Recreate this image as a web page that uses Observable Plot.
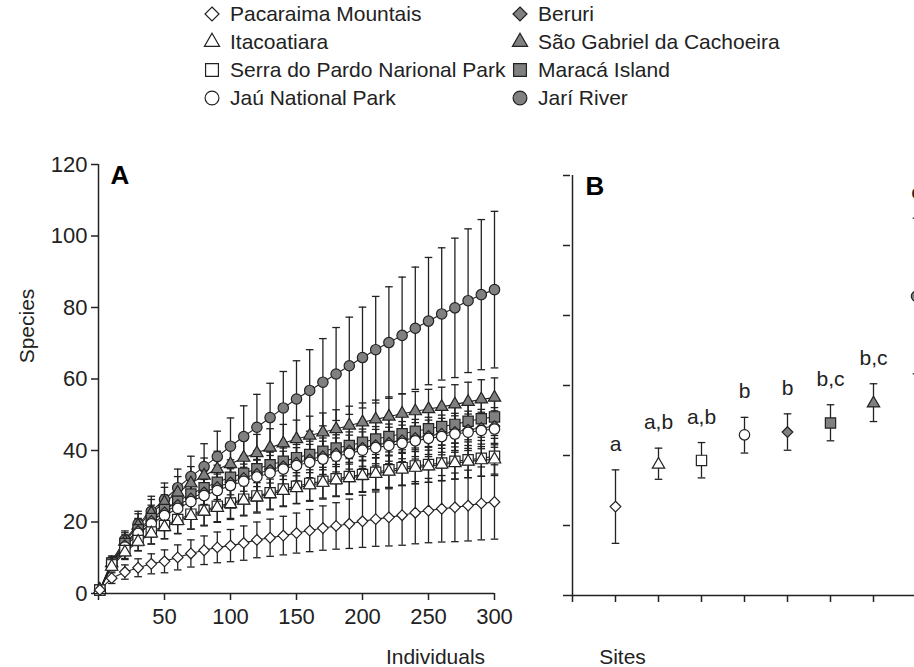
<!DOCTYPE html>
<html><head><meta charset="utf-8">
<script src="https://cdn.jsdelivr.net/npm/d3@7"></script>
<script src="https://cdn.jsdelivr.net/npm/@observablehq/plot@0.6"></script>
<style>
html,body{margin:0;padding:0;background:#fff;}
#wrap{position:relative;width:914px;height:667px;overflow:hidden;font-family:"Liberation Sans",Arial,sans-serif;color:#222;background:#fff;}
#legend{position:absolute;left:202px;top:0;display:grid;grid-template-columns:308px auto;grid-template-rows:repeat(4,28px);grid-auto-flow:column;font-size:21px;}
.item{display:flex;align-items:center;gap:8px;white-space:nowrap;}
.item svg{flex:none;overflow:visible}
#panelA{position:absolute;left:0;top:130px;width:545px;}
#panelB{position:absolute;left:545px;top:130px;width:430px;}
</style></head><body>
<div id="wrap"><div id="legend"></div><div id="panelA"></div><div id="panelB"></div></div>
<script>
// ---------- data ----------
const siteNames = ["Pacaraima Mountais","Itacoatiara","Serra do Pardo Narional Park","Jaú National Park","Beruri","São Gabriel da Cachoeira","Maracá Island","Jarí River"];
const siteSymbols = ["diamond2","triangle","square","circle","diamond2","triangle","square","circle"];
const siteFills = ["white","white","white","white","#808080","#808080","#808080","#808080"];

const individuals = [1,10,20,30,40,50,60,70,80,90,100,110,120,130,140,150,160,170,180,190,200,210,220,230,240,250,260,270,280,290,300];

const pacaraima    = [1,4.3,6.0,7.2,8.3,9.0,10.1,11.2,12.1,12.9,13.4,14.1,15.0,15.6,16.2,16.9,17.6,18.3,18.9,19.5,20.2,20.8,21.3,21.9,22.6,23.2,23.7,24.1,24.6,25.2,25.6];
const pacaraimaErr = [0,1.5,2.0,2.5,2.8,3.2,3.5,3.8,4.0,4.3,4.5,4.8,5.0,5.2,5.4,5.6,5.9,6.2,6.5,6.9,7.3,7.6,8.0,8.4,8.7,9.0,9.3,9.6,9.9,10.2,10.4];
const itacoatiara    = [1,7.5,11.5,14.5,16.8,18.6,20.3,21.7,22.9,24.0,25.0,26.0,26.9,27.8,28.7,29.5,30.3,31.0,31.7,32.3,32.9,33.5,34.1,34.7,35.2,35.6,36.1,36.5,36.9,37.3,37.5];
const itacoatiaraErr = [0,1.2,2.0,2.6,3.0,3.3,3.5,3.7,3.8,3.9,4.0,4.1,4.1,4.2,4.2,4.3,4.3,4.3,4.4,4.4,4.4,4.4,4.4,4.5,4.5,4.5,4.5,4.5,4.5,4.5,4.5];
const serraDoPardo    = [1,8.0,12.0,14.8,17.2,19.0,20.7,22.2,23.3,24.4,25.3,26.4,27.3,28.2,29.2,30.0,30.8,31.4,32.1,32.7,33.3,33.9,34.6,35.2,35.7,36.1,36.5,37.0,37.4,37.8,38.4];
const serraDoPardoErr = [0,1.3,2.2,2.8,3.3,3.7,4.0,4.2,4.4,4.5,4.6,4.7,4.8,4.8,4.9,4.9,5.0,5.0,5.0,5.0,5.0,5.0,5.0,5.0,5.0,5.0,5.0,5.0,5.0,5.0,5.0];
const jau    = [1,8.0,13.0,16.8,19.5,21.8,23.8,25.7,27.4,28.8,30.2,31.4,32.6,33.7,34.8,35.8,36.7,37.6,38.4,39.2,40.1,40.8,41.4,42.0,42.7,43.4,43.9,44.6,45.1,45.6,46.0];
const jauErr = [0,1.3,2.3,3.0,3.5,3.9,4.2,4.4,4.5,4.6,4.7,4.8,4.9,4.9,5.0,5.0,5.0,5.0,5.1,5.1,5.1,5.1,5.1,5.1,5.1,5.1,5.1,5.1,5.1,5.1,5.1];
const beruri    = [1,8.5,13.5,17.5,20.3,22.7,24.8,26.6,28.3,29.8,31.1,32.3,33.5,34.6,35.6,36.6,37.5,38.4,39.2,40.0,40.8,41.5,42.2,42.9,43.5,44.1,44.7,45.2,45.8,46.3,46.8];
const beruriErr = [0,1.4,2.4,3.1,3.6,4.0,4.3,4.5,4.6,4.7,4.8,4.9,5.0,5.0,5.1,5.1,5.1,5.1,5.2,5.2,5.2,5.2,5.2,5.2,5.2,5.2,5.2,5.2,5.2,5.2,5.2];
const saoGabriel    = [1,8.5,14.5,19.0,22.5,25.5,28.2,30.8,33.0,34.8,36.2,38.0,39.3,40.8,42.0,43.2,44.2,45.1,46.0,47.0,47.9,48.7,49.5,50.3,51.0,51.6,52.2,52.9,53.6,54.3,54.8];
const saoGabrielErr = [0,1.5,2.5,3.3,3.8,4.2,4.5,4.7,4.9,5.0,5.1,5.2,5.2,5.3,5.3,5.3,5.4,5.4,5.4,5.4,5.4,5.4,5.5,5.5,5.5,5.5,5.5,5.5,5.5,5.5,5.5];
const maraca    = [1,8.5,14.0,17.8,21.0,23.5,25.8,27.8,29.6,31.1,32.5,33.6,34.9,36.0,37.0,38.0,38.9,39.8,40.7,41.4,42.3,43.2,43.9,44.7,45.4,46.1,46.7,47.3,48.2,48.9,49.4];
const maracaErr = [0,1.4,2.4,3.2,3.7,4.1,4.4,4.6,4.7,4.8,4.9,5.0,5.0,5.1,5.1,5.1,5.1,5.2,5.2,5.2,5.2,5.2,5.2,5.2,5.2,5.2,5.2,5.2,5.2,5.2,5.2];
const jari    = [1,9.0,15.0,19.5,23.0,26.3,29.6,32.7,35.5,38.3,41.2,43.9,46.5,49.2,51.9,54.4,56.8,59.1,61.4,63.7,66.0,68.2,70.2,72.2,74.2,76.2,78.2,79.9,81.9,83.6,85.0];
const jariErr = [0,1.5,2.5,3.5,4.2,4.6,5.2,5.7,6.4,7.1,7.9,8.6,9.2,9.6,10.2,10.7,11.4,12.2,13.0,13.6,14.1,14.9,15.6,16.3,17.1,17.8,18.5,19.5,20.1,21.0,21.9];

const curves    = [pacaraima, itacoatiara, serraDoPardo, jau, beruri, saoGabriel, maraca, jari];
const curveErrs = [pacaraimaErr, itacoatiaraErr, serraDoPardoErr, jauErr, beruriErr, saoGabrielErr, maracaErr, jariErr];

// Panel B: sites in the order they are plotted, estimated species, limits, group letters
const sitesB       = ["Pacaraima Mountais","Itacoatiara","Serra do Pardo Narional Park","Jaú National Park","Beruri","Maracá Island","São Gabriel da Cachoeira","Jarí River"];
const siteEstimate = [25.4, 37.4, 38.6, 45.9, 46.7, 49.3, 54.9, 85.5];
const siteLower    = [14.9, 33.2, 33.6, 40.7, 41.5, 44.2, 49.7, 63.3];
const siteUpper    = [35.9, 42.1, 43.7, 50.9, 51.9, 54.5, 60.5, 107.8];
const siteLetters  = ["a", "a,b", "a,b", "b", "b", "b,c", "b,c", "c"];

const yTicks  = [0,20,40,60,80,100,120];
const xTicksA = [0,50,100,150,200,250,300];

// ---------- styling ----------
const ink = "#222";
const symbolR = {circle: 5.2, square: 5.8, diamond2: 4.8, triangle: 4.6};
const font = {fontFamily: "'Liberation Sans', Arial, sans-serif", fontSize: "22px", color: ink, background: "white", maxWidth: "none"};
const cap = {draw(ctx) { ctx.moveTo(-3.8, 0); ctx.lineTo(3.8, 0); }};
const drawOrder = [7, 5, 6, 4, 3, 2, 1, 0];

// ---------- tables ----------
const rows = [];
siteNames.forEach((s, i) => individuals.forEach((x, j) => {
  rows.push({site: s, x, y: curves[i][j], lo: curves[i][j] - curveErrs[i][j], hi: curves[i][j] + curveErrs[i][j]});
}));
const est = sitesB.map((s, i) => ({site: s, y: siteEstimate[i], lo: siteLower[i], hi: siteUpper[i], letter: siteLetters[i]}));

// ---------- legend ----------
const symMap = {circle: d3.symbolCircle, square: d3.symbolSquare, diamond2: d3.symbolDiamond2, triangle: d3.symbolTriangle};
const legendSize = {circle: 150, square: 165, diamond2: 125, triangle: 100};
const legend = document.getElementById("legend");
siteNames.forEach((s, i) => {
  const item = document.createElement("div");
  item.className = "item";
  const t = siteSymbols[i];
  const path = d3.symbol(symMap[t], legendSize[t])();
  item.innerHTML = `<svg width="20" height="20" viewBox="-10 -10 20 20"><path d="${path}" fill="${siteFills[i]}" stroke="${ink}" stroke-width="1.2"/></svg><span>${s}</span>`;
  legend.appendChild(item);
});

// ---------- panel A ----------
const markersA = drawOrder.map(i => Plot.dot(rows.filter(d => d.site === siteNames[i]), {
  x: "x", y: "y", symbol: siteSymbols[i], r: symbolR[siteSymbols[i]], fill: siteFills[i], stroke: ink, strokeWidth: 1.2
}));
const plotA = Plot.plot({
  width: 545, height: 537,
  marginLeft: 98, marginRight: 51, marginTop: 34, marginBottom: 74,
  style: font,
  x: {domain: [0, 300]},
  y: {domain: [0, 120]},
  marks: [
    Plot.axisY({ticks: yTicks, tickSize: 7, tickPadding: 4, label: null, stroke: ink, strokeWidth: 1.5}),
    Plot.axisX({ticks: xTicksA, tickSize: 7, tickPadding: 8, label: null, stroke: ink, strokeWidth: 1.5, tickFormat: d => d === 0 ? "" : d}),
    Plot.ruleY([0], {stroke: ink, strokeWidth: 1.5}),
    Plot.ruleX([0], {stroke: ink, strokeWidth: 1.5}),
    Plot.line(rows, {x: "x", y: "y", z: "site", stroke: ink, strokeWidth: 1.1}),
    Plot.ruleX(rows, {x: "x", y1: "lo", y2: "hi", stroke: ink, strokeWidth: 1.3}),
    Plot.dot(rows, {x: "x", y: "hi", symbol: cap, r: 3, fill: "none", stroke: ink, strokeWidth: 1.3}),
    Plot.dot(rows, {x: "x", y: "lo", symbol: cap, r: 3, fill: "none", stroke: ink, strokeWidth: 1.3}),
    ...markersA,
    Plot.text(["A"], {frameAnchor: "top-left", dx: 12, dy: 1, textAnchor: "start", lineAnchor: "top", fontSize: 26, fontWeight: "bold", fill: "black"}),
    Plot.text(["Species"], {frameAnchor: "left", dx: -71, dy: -53, rotate: -90, textAnchor: "middle", lineAnchor: "middle", fontSize: 21}),
    Plot.text(["Individuals"], {frameAnchor: "bottom", dx: 139, dy: 64, textAnchor: "middle", lineAnchor: "middle", fontSize: 21})
  ]
});
document.getElementById("panelA").appendChild(plotA);

// ---------- panel B ----------
const padStart = "", padEnd = " ";
const markersB = est.map(d => {
  const i = siteNames.indexOf(d.site);
  return Plot.dot([d], {x: "site", y: "y", symbol: siteSymbols[i], r: symbolR[siteSymbols[i]], fill: siteFills[i], stroke: ink, strokeWidth: 1.2});
});
const plotB = Plot.plot({
  width: 430, height: 537,
  marginLeft: 25, marginRight: 15, marginTop: 45, marginBottom: 72,
  style: font,
  x: {type: "point", domain: [padStart, ...sitesB, padEnd], padding: 0},
  y: {domain: [0, 120]},
  marks: [
    Plot.axisY({ticks: yTicks, tickSize: 7, label: null, stroke: ink, strokeWidth: 1.5, tickFormat: () => ""}),
    Plot.axisX({tickSize: 7, label: null, stroke: ink, strokeWidth: 1.5, tickFormat: () => ""}),
    Plot.ruleY([0], {stroke: ink, strokeWidth: 1.5}),
    Plot.ruleX([padStart], {stroke: ink, strokeWidth: 1.5}),
    Plot.ruleX(est, {x: "site", y1: "lo", y2: "hi", stroke: ink, strokeWidth: 1.3}),
    Plot.dot(est, {x: "site", y: "hi", symbol: cap, r: 3, fill: "none", stroke: ink, strokeWidth: 1.3}),
    Plot.dot(est, {x: "site", y: "lo", symbol: cap, r: 3, fill: "none", stroke: ink, strokeWidth: 1.3}),
    ...markersB,
    Plot.text(est, {x: "site", y: "hi", text: "letter", dy: -19, lineAnchor: "bottom", fontSize: 21, fill: ink}),
    Plot.text(["B"], {frameAnchor: "top-left", dx: 15, dy: 1, textAnchor: "start", lineAnchor: "top", fontSize: 26, fontWeight: "bold", fill: "black"}),
    Plot.text(["Sites"], {frameAnchor: "bottom-left", dx: 52, dy: 62, textAnchor: "middle", lineAnchor: "middle", fontSize: 21})
  ]
});
document.getElementById("panelB").appendChild(plotB);
</script>
</body></html>
